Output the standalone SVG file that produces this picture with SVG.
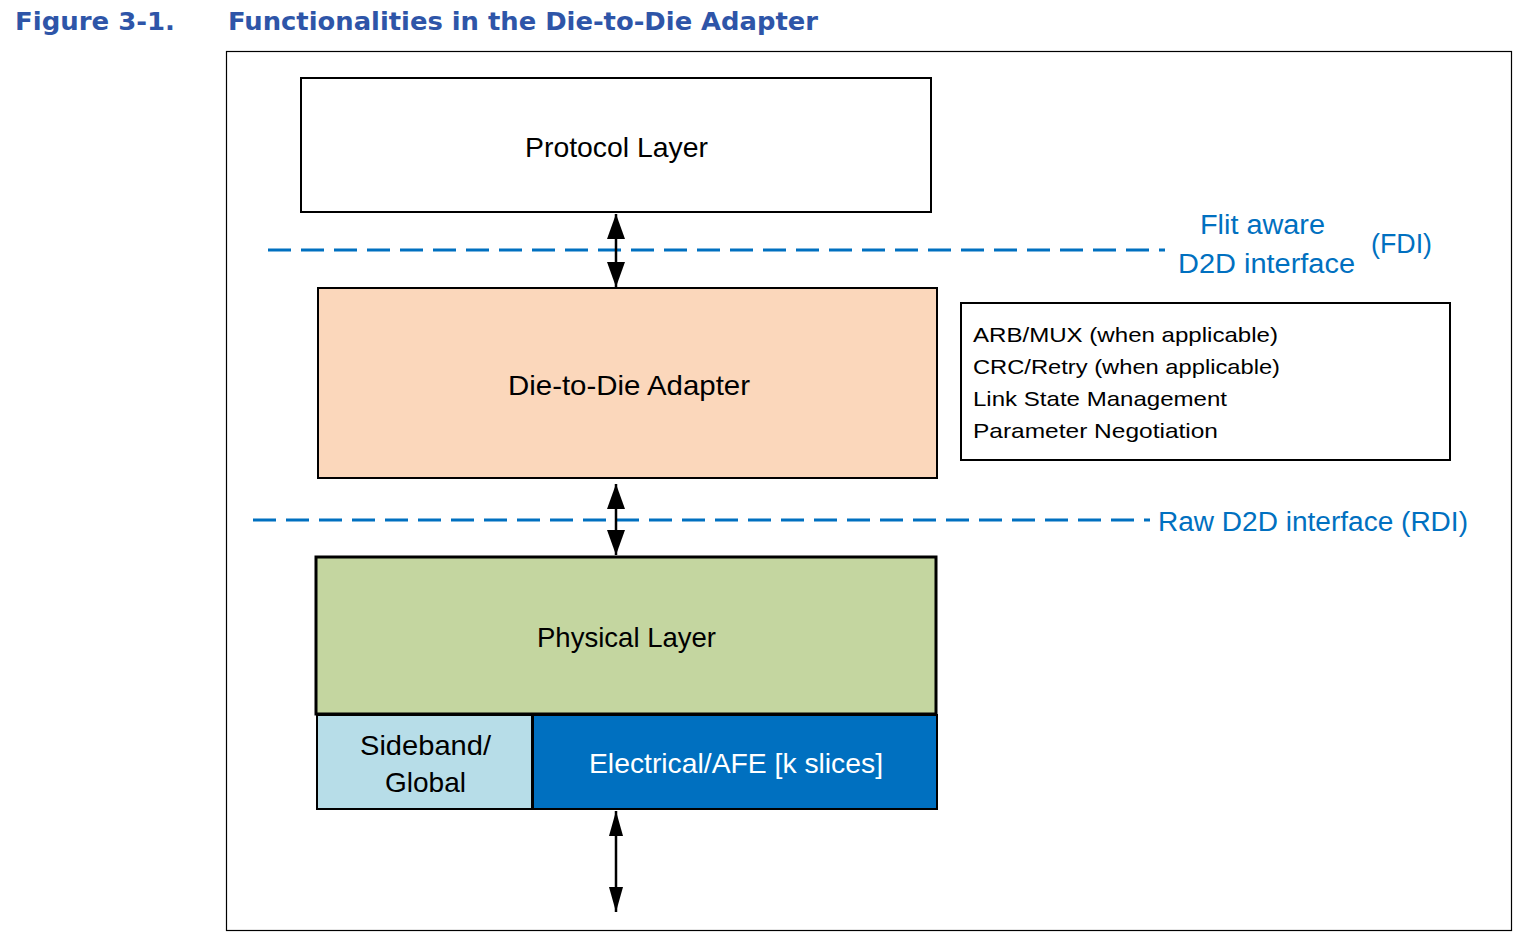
<svg xmlns="http://www.w3.org/2000/svg" width="1518" height="939" viewBox="0 0 1518 939">
<defs>
<style>
.title{font-family:"DejaVu Sans",Verdana,sans-serif;font-weight:bold;font-size:24px;fill:#2E55A8}
.lbl{font-family:"Liberation Sans",Arial,sans-serif;font-size:28px;fill:#000;text-anchor:middle}
.info{font-family:"Liberation Sans",Arial,sans-serif;font-size:21px;fill:#000}
.blue{font-family:"Liberation Sans",Arial,sans-serif;font-size:27px;fill:#0070C0}
.box{stroke:#000;stroke-width:2}
.dash{stroke:#0070C0;stroke-width:3;stroke-dasharray:23 10;fill:none}
.arr{stroke:#000;stroke-width:2.5;fill:none}
</style>
<marker id="ah" viewBox="0 0 25 18" refX="25" refY="9" markerWidth="25" markerHeight="18" markerUnits="userSpaceOnUse" orient="auto-start-reverse">
<path d="M0,0 L25,9 L0,18 Z" fill="#000"/>
</marker>
<marker id="ah2" viewBox="0 0 25 14" refX="25" refY="7" markerWidth="25" markerHeight="14" markerUnits="userSpaceOnUse" orient="auto-start-reverse">
<path d="M0,0 L25,7 L0,14 Z" fill="#000"/>
</marker>
</defs>
<rect width="1518" height="939" fill="#fff"/>
<text class="title" x="15" y="30" textLength="160" lengthAdjust="spacingAndGlyphs">Figure 3-1.</text>
<text class="title" x="228" y="30" textLength="590" lengthAdjust="spacingAndGlyphs">Functionalities in the Die-to-Die Adapter</text>
<rect x="226.5" y="51.5" width="1285" height="879" fill="none" stroke="#000" stroke-width="1.2"/>

<g id="interfaces">
<line class="dash" x1="268" y1="250" x2="1165" y2="250"/>
<line class="dash" x1="253" y1="520" x2="1150" y2="520"/>
<text class="blue" x="1200" y="234" textLength="125" lengthAdjust="spacingAndGlyphs">Flit aware</text>
<text class="blue" x="1178" y="273" textLength="177" lengthAdjust="spacingAndGlyphs">D2D interface</text>
<text class="blue" x="1371" y="253" textLength="61" lengthAdjust="spacingAndGlyphs">(FDI)</text>
<text class="blue" x="1158" y="531" textLength="310" lengthAdjust="spacingAndGlyphs">Raw D2D interface (RDI)</text>
</g>

<g id="protocol">
<rect class="box" x="301" y="78" width="630" height="134" fill="#fff"/>
<text class="lbl" x="616.5" y="157" textLength="183" lengthAdjust="spacingAndGlyphs">Protocol Layer</text>
</g>
<g id="adapter">
<rect class="box" x="318" y="288" width="619" height="190" fill="#FBD7BB"/>
<text class="lbl" x="629" y="395" textLength="242" lengthAdjust="spacingAndGlyphs">Die-to-Die Adapter</text>
</g>
<g id="functions">
<rect class="box" x="961" y="303" width="489" height="157" fill="#fff"/>
<text class="info" x="973" y="342" textLength="305" lengthAdjust="spacingAndGlyphs">ARB/MUX (when applicable)</text>
<text class="info" x="973" y="374" textLength="307" lengthAdjust="spacingAndGlyphs">CRC/Retry (when applicable)</text>
<text class="info" x="973" y="406" textLength="254" lengthAdjust="spacingAndGlyphs">Link State Management</text>
<text class="info" x="973" y="438" textLength="245" lengthAdjust="spacingAndGlyphs">Parameter Negotiation</text>
</g>
<g id="physical">
<rect x="316" y="557" width="620" height="157" fill="#C4D6A0" stroke="#000" stroke-width="3"/>
<text class="lbl" x="626.5" y="647" textLength="179" lengthAdjust="spacingAndGlyphs">Physical Layer</text>
</g>
<g id="sideband">
<rect class="box" x="317" y="715" width="215" height="94" fill="#B7DDE8"/>
<text class="lbl" x="425.5" y="755" textLength="131" lengthAdjust="spacingAndGlyphs">Sideband/</text>
<text class="lbl" x="425.5" y="792" textLength="81" lengthAdjust="spacingAndGlyphs">Global</text>
</g>
<g id="electrical">
<rect class="box" x="533" y="715" width="404" height="94" fill="#0070C0"/>
<text class="lbl" x="736" y="773" style="fill:#fff" textLength="294" lengthAdjust="spacingAndGlyphs">Electrical/AFE [k slices]</text>
</g>

<g id="connectors">
<line class="arr" x1="616" y1="214" x2="616" y2="287" marker-start="url(#ah)" marker-end="url(#ah)"/>
<line class="arr" x1="616" y1="484" x2="616" y2="555" marker-start="url(#ah)" marker-end="url(#ah)"/>
<line class="arr" x1="616" y1="811" x2="616" y2="912" marker-start="url(#ah2)" marker-end="url(#ah2)"/>
</g>
</svg>
